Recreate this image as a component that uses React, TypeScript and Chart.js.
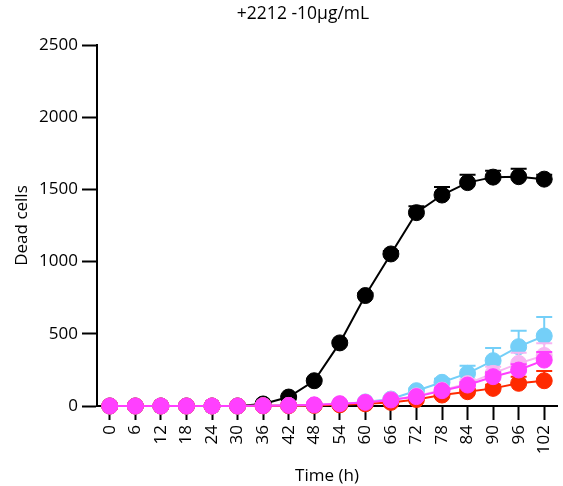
import React, { useEffect, useRef } from "react";
import { Chart, registerables } from "chart.js";

Chart.register(...registerables);

const hours = ["0", "6", "12", "18", "24", "30", "36", "42", "48", "54", "60", "66", "72", "78", "84", "90", "96", "102"];

const blackVals = [0, 0, 0, 0, 0, 0, 14, 62, 175, 437, 765, 1053, 1339, 1461, 1547, 1585, 1588, 1571];
const blackErr = [0, 0, 0, 0, 0, 0, 5, 8, 10, 12, 15, 20, 45, 55, 55, 45, 55, 30];

const blueVals = [0, 0, 0, 0, 0, 0, 2, 3, 5, 12, 28, 48, 106, 164, 226, 314, 411, 485];
const blueErr = [0, 0, 0, 0, 0, 0, 1, 1, 2, 4, 6, 10, 15, 25, 53, 88, 110, 132];

const pinkVals = [0, 0, 0, 0, 0, 0, 2, 3, 6, 14, 26, 44, 70, 110, 155, 226, 295, 350];
const pinkErr = [0, 0, 0, 0, 0, 0, 1, 1, 2, 3, 5, 8, 12, 20, 30, 45, 74, 84];

const redVals = [0, 0, 0, 0, 0, 0, 1, 2, 4, 8, 15, 25, 45, 76, 99, 122, 157, 175];
const redErr = [0, 0, 0, 0, 0, 0, 1, 1, 1, 2, 3, 5, 8, 12, 18, 25, 45, 67];

const magentaVals = [0, 0, 0, 0, 0, 0, 2, 4, 8, 16, 25, 42, 65, 106, 145, 203, 249, 318];
const magentaErr = [0, 0, 0, 0, 0, 0, 1, 1, 2, 3, 4, 6, 10, 15, 22, 30, 40, 56];

const FONT = "'Open Sans', 'DejaVu Sans', sans-serif";

const errorBarPlugin = {
  id: "errorBars",
  beforeDatasetDraw(chart: any, args: any) {
    const ds: any = chart.data.datasets[args.index];
    const errs: number[] | undefined = ds.errors;
    if (!errs) return;
    const meta = args.meta;
    const yScale = chart.scales.y;
    const ctx = chart.ctx;
    ctx.save();
    ctx.strokeStyle = ds.borderColor;
    ctx.lineWidth = 2;
    meta.data.forEach((pt: any, i: number) => {
      const e = errs[i];
      if (!e) return;
      const x = pt.x;
      const y0 = yScale.getPixelForValue(ds.data[i]);
      const y1 = yScale.getPixelForValue(ds.data[i] + e);
      ctx.beginPath();
      ctx.moveTo(x, y0);
      ctx.lineTo(x, y1);
      ctx.moveTo(x - 8, y1);
      ctx.lineTo(x + 8, y1);
      ctx.stroke();
    });
    ctx.restore();
  },
};

const titlePlugin = {
  id: "customTitle",
  afterDraw(chart: any) {
    const ctx = chart.ctx;
    ctx.save();
    ctx.fillStyle = "#000";
    ctx.font = `17.5px ${FONT}`;
    ctx.textAlign = "center";
    ctx.textBaseline = "middle";
    ctx.fillText("+2212 -10μg/mL", 303, 14);
    ctx.restore();
  },
};

function mk(label: string, data: number[], errors: number[], color: string, order: number) {
  return {
    label,
    data,
    errors,
    borderColor: color,
    backgroundColor: color,
    pointBackgroundColor: color,
    pointBorderColor: color,
    pointRadius: 8,
    pointBorderWidth: 1,
    borderWidth: 2,
    tension: 0,
    clip: false as any,
    order,
  } as any;
}

export default function App() {
  const ref = useRef<HTMLCanvasElement | null>(null);
  useEffect(() => {
    if (!ref.current) return;
    const chart = new Chart(ref.current, {
      type: "line",
      data: {
        labels: hours,
        datasets: [
          mk("Control", blackVals, blackErr, "#000000", 4),
          mk("Series B", blueVals, blueErr, "#74CFF8", 3),
          mk("Series C", pinkVals, pinkErr, "#F7B5F2", 2),
          mk("Series D", redVals, redErr, "#FF2A00", 1),
          mk("Series E", magentaVals, magentaErr, "#FF40FF", 0),
        ],
      },
      options: {
        responsive: false,
        animation: false,
        layout: { padding: { top: 45, right: 0, left: 0, bottom: 0 } },
        plugins: {
          legend: { display: false },
          tooltip: { enabled: false },
          title: { display: false },
        },
        scales: {
          x: {
            type: "category",
            offset: true,
            afterFit: (s: any) => {
              s.height = 80;
              s.paddingRight = 0;
              s.paddingLeft = 0;
            },
            grid: {
              display: true,
              drawOnChartArea: false,
              drawTicks: true,
              tickLength: 14,
              tickWidth: 2,
              tickColor: "#000",
            },
            border: { display: true, color: "#000", width: 2 },
            ticks: {
              color: "#000",
              font: { family: FONT, size: 17 },
              maxRotation: 90,
              minRotation: 90,
              padding: 5,
              autoSkip: false,
            },
            title: {
              display: true,
              text: "Time (h)",
              color: "#000",
              font: { family: FONT, size: 17 },
              padding: { top: 0, bottom: 0 },
            },
          },
          y: {
            min: 0,
            max: 2500,
            afterFit: (s: any) => {
              s.width = 97;
            },
            grid: {
              display: true,
              drawOnChartArea: false,
              drawTicks: true,
              tickLength: 15,
              tickWidth: 2,
              tickColor: "#000",
            },
            border: { display: true, color: "#000", width: 2 },
            ticks: {
              stepSize: 500,
              color: "#000",
              font: { family: FONT, size: 17 },
              padding: 4,
              callback: (v: any) => String(v),
            },
            title: {
              display: true,
              text: "Dead cells",
              color: "#000",
              font: { family: FONT, size: 17 },
              padding: { top: 12, bottom: 0 },
            },
          },
        },
      },
      plugins: [errorBarPlugin, titlePlugin],
    });
    return () => chart.destroy();
  }, []);
  return (
    <div style={{ position: "absolute", left: 0, top: 0, width: 563, height: 486, overflow: "hidden" }}>
      <canvas ref={ref} width={566} height={486} />
    </div>
  );
}
